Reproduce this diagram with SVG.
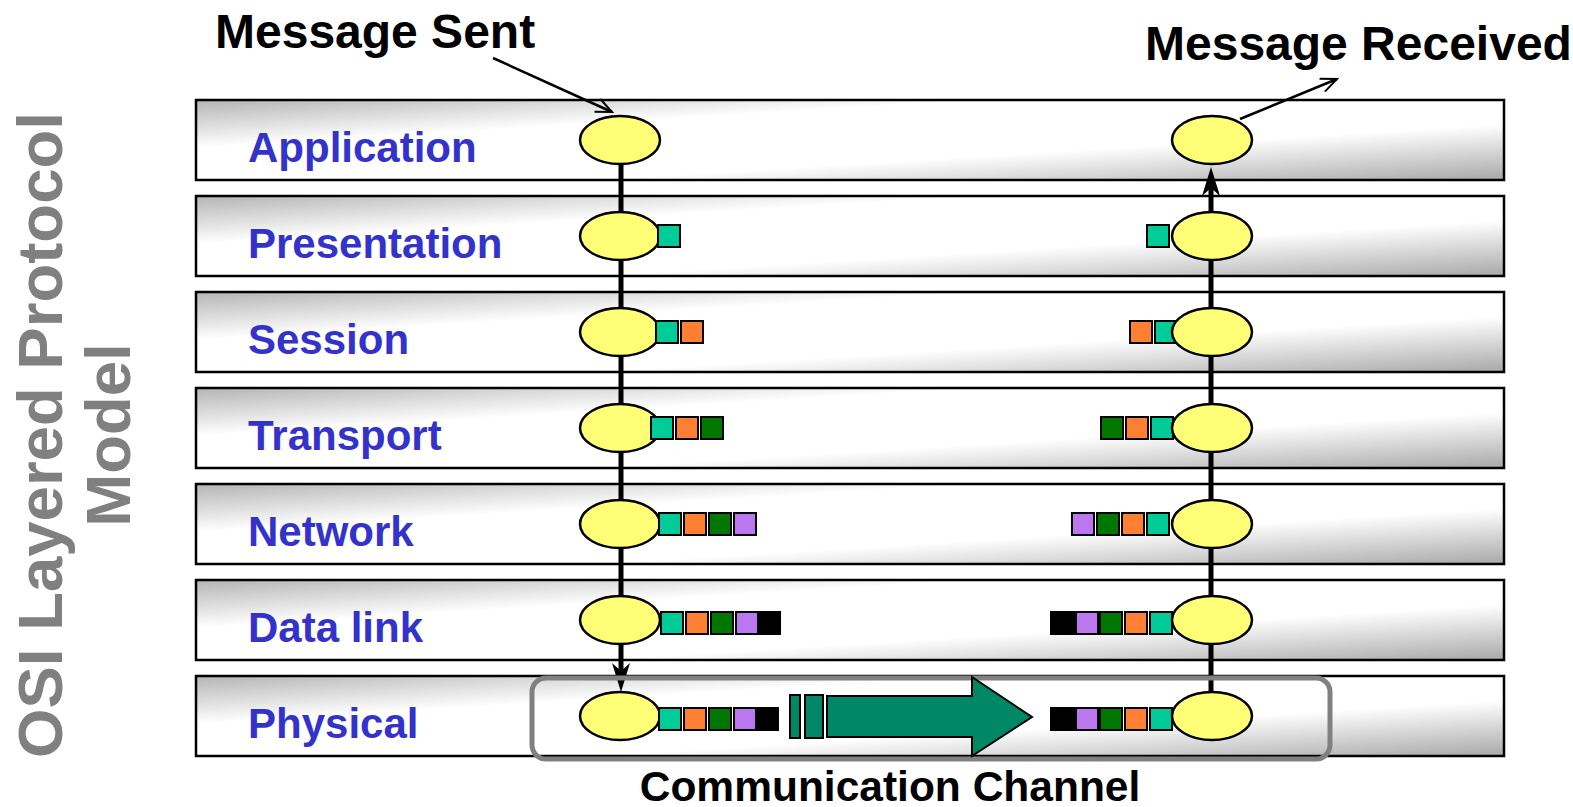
<svg xmlns="http://www.w3.org/2000/svg" width="1573" height="807" viewBox="0 0 1573 807">
  <defs>
    <linearGradient id="bandFill" x1="0" y1="0" x2="1" y2="1">
      <stop offset="0" stop-color="#b4b4b4"/>
      <stop offset="0.3" stop-color="#ffffff"/>
      <stop offset="0.65" stop-color="#ffffff"/>
      <stop offset="1" stop-color="#a8a8a8"/>
    </linearGradient>
    <marker id="openHead" viewBox="0 0 20 16" refX="18" refY="8" markerWidth="20" markerHeight="16" markerUnits="userSpaceOnUse" orient="auto">
      <path d="M2,1 L18,8 L2,15" fill="none" stroke="#000" stroke-width="2"/>
    </marker>
  </defs>
  <style>
    .band { fill: url(#bandFill); stroke: #000; stroke-width: 2.5; }
    .layer { font-family: "Liberation Sans", Arial, sans-serif; font-weight: bold; font-size: 42px; fill: #3333cc; }
    .title { font-family: "Liberation Sans", Arial, sans-serif; font-weight: bold; font-size: 48px; fill: #000; }
    .caption { font-family: "Liberation Sans", Arial, sans-serif; font-weight: bold; font-size: 42.5px; fill: #000; }
    .side { font-family: "Liberation Sans", Arial, sans-serif; font-weight: bold; font-size: 63.5px; fill: #808080; }
    .node { fill: #ffff77; stroke: #000; stroke-width: 2.5; }
    .flow { stroke: #000; stroke-width: 5; fill: none; }
    .hdr { stroke: #000; stroke-width: 2; }
    .h1 { fill: #00cc99; }
    .h2 { fill: #ff7f33; }
    .h3 { fill: #007700; }
    .h4 { fill: #bb77ee; }
    .h5 { fill: #000; }
    .wire { fill: #008866; stroke: #000; stroke-width: 2; }
  </style>

  <!-- side title -->
  <g id="side-title">
    <text class="side" transform="translate(62,435) rotate(-90)" text-anchor="middle">OSI Layered Protocol</text>
    <text class="side" transform="translate(130,435) rotate(-90)" text-anchor="middle">Model</text>
  </g>

  <!-- protocol layers -->
  <g id="layer-application"><rect class="band" x="196" y="100" width="1308" height="80"/><text class="layer" x="248" y="162">Application</text></g>
  <g id="layer-presentation"><rect class="band" x="196" y="196" width="1308" height="80"/><text class="layer" x="248" y="258">Presentation</text></g>
  <g id="layer-session"><rect class="band" x="196" y="292" width="1308" height="80"/><text class="layer" x="248" y="354">Session</text></g>
  <g id="layer-transport"><rect class="band" x="196" y="388" width="1308" height="80"/><text class="layer" x="248" y="450">Transport</text></g>
  <g id="layer-network"><rect class="band" x="196" y="484" width="1308" height="80"/><text class="layer" x="248" y="546">Network</text></g>
  <g id="layer-datalink"><rect class="band" x="196" y="580" width="1308" height="80"/><text class="layer" x="248" y="642">Data link</text></g>
  <g id="layer-physical"><rect class="band" x="196" y="676" width="1308" height="80"/><text class="layer" x="248" y="738">Physical</text></g>

  <!-- connectors -->
  <g id="connectors">
    <line class="flow" x1="621" y1="140" x2="621" y2="672"/>
    <polygon points="621,692 612,663 621,671 630,663" fill="#000"/>
    <line class="flow" x1="1211" y1="716" x2="1211" y2="188"/>
    <polygon points="1211,167 1202,196 1211,188 1220,196" fill="#000"/>
    <line x1="493" y1="58" x2="612" y2="112" stroke="#000" stroke-width="2.5" marker-end="url(#openHead)"/>
    <line x1="1240" y1="119" x2="1337" y2="79" stroke="#000" stroke-width="2.5" marker-end="url(#openHead)"/>
  </g>

  <!-- sending stack -->
  <g id="sender">
    <ellipse class="node" cx="620" cy="140" rx="40" ry="24"/>
    <ellipse class="node" cx="620" cy="236" rx="40" ry="24"/>
    <ellipse class="node" cx="620" cy="332" rx="40" ry="24"/>
    <ellipse class="node" cx="620" cy="428" rx="40" ry="24"/>
    <ellipse class="node" cx="620" cy="524" rx="40" ry="24"/>
    <ellipse class="node" cx="620" cy="620" rx="40" ry="24"/>
    <ellipse class="node" cx="620" cy="716" rx="40" ry="24"/>
    <!-- headers added on the way down -->
    <rect class="hdr h1" x="658" y="225" width="22" height="22"/>

    <rect class="hdr h1" x="656" y="321" width="22" height="22"/>
    <rect class="hdr h2" x="681" y="321" width="22" height="22"/>

    <rect class="hdr h1" x="651" y="417" width="22" height="22"/>
    <rect class="hdr h2" x="676" y="417" width="22" height="22"/>
    <rect class="hdr h3" x="701" y="417" width="22" height="22"/>

    <rect class="hdr h1" x="659" y="513" width="22" height="22"/>
    <rect class="hdr h2" x="684" y="513" width="22" height="22"/>
    <rect class="hdr h3" x="709" y="513" width="22" height="22"/>
    <rect class="hdr h4" x="734" y="513" width="22" height="22"/>

    <rect class="hdr h1" x="661" y="612" width="22" height="22"/>
    <rect class="hdr h2" x="686" y="612" width="22" height="22"/>
    <rect class="hdr h3" x="711" y="612" width="22" height="22"/>
    <rect class="hdr h4" x="736" y="612" width="22" height="22"/>
    <rect class="h5" x="757" y="611" width="24" height="24"/>

    <rect class="hdr h1" x="659" y="708" width="22" height="22"/>
    <rect class="hdr h2" x="684" y="708" width="22" height="22"/>
    <rect class="hdr h3" x="709" y="708" width="22" height="22"/>
    <rect class="hdr h4" x="734" y="708" width="22" height="22"/>
    <rect class="h5" x="755" y="707" width="24" height="24"/>
  </g>

  <!-- receiving stack -->
  <g id="receiver">
    <rect class="hdr h1" x="1147" y="225" width="22" height="22"/>

    <rect class="hdr h2" x="1130" y="321" width="22" height="22"/>
    <rect class="hdr h1" x="1155" y="321" width="22" height="22"/>

    <rect class="hdr h3" x="1101" y="417" width="22" height="22"/>
    <rect class="hdr h2" x="1126" y="417" width="22" height="22"/>
    <rect class="hdr h1" x="1151" y="417" width="22" height="22"/>

    <rect class="hdr h4" x="1072" y="513" width="22" height="22"/>
    <rect class="hdr h3" x="1097" y="513" width="22" height="22"/>
    <rect class="hdr h2" x="1122" y="513" width="22" height="22"/>
    <rect class="hdr h1" x="1147" y="513" width="22" height="22"/>

    <rect class="h5" x="1050" y="611" width="25" height="24"/>
    <rect class="hdr h4" x="1076" y="612" width="22" height="22"/>
    <rect class="hdr h3" x="1100" y="612" width="22" height="22"/>
    <rect class="hdr h2" x="1125" y="612" width="22" height="22"/>
    <rect class="hdr h1" x="1150" y="612" width="22" height="22"/>

    <rect class="h5" x="1050" y="707" width="25" height="24"/>
    <rect class="hdr h4" x="1076" y="708" width="22" height="22"/>
    <rect class="hdr h3" x="1100" y="708" width="22" height="22"/>
    <rect class="hdr h2" x="1125" y="708" width="22" height="22"/>
    <rect class="hdr h1" x="1150" y="708" width="22" height="22"/>

    <ellipse class="node" cx="1212" cy="140" rx="40" ry="24"/>
    <ellipse class="node" cx="1212" cy="236" rx="40" ry="24"/>
    <ellipse class="node" cx="1212" cy="332" rx="40" ry="24"/>
    <ellipse class="node" cx="1212" cy="428" rx="40" ry="24"/>
    <ellipse class="node" cx="1212" cy="524" rx="40" ry="24"/>
    <ellipse class="node" cx="1212" cy="620" rx="40" ry="24"/>
    <ellipse class="node" cx="1212" cy="716" rx="40" ry="24"/>
  </g>

  <!-- communication channel -->
  <g id="channel">
    <rect x="532" y="678" width="798" height="81" rx="14" ry="14" fill="none" stroke="#808080" stroke-width="5"/>
    <rect class="wire" x="790" y="695" width="10" height="43"/>
    <rect class="wire" x="805" y="695" width="18" height="43"/>
    <polygon class="wire" points="827,696 972,696 972,677 1032,717 972,756 972,737 827,737"/>
    <text class="caption" x="890" y="801" text-anchor="middle">Communication Channel</text>
  </g>

  <!-- end-point labels -->
  <g id="labels">
    <text class="title" x="215" y="48">Message Sent</text>
    <text class="title" x="1145" y="60">Message Received</text>
  </g>
</svg>
